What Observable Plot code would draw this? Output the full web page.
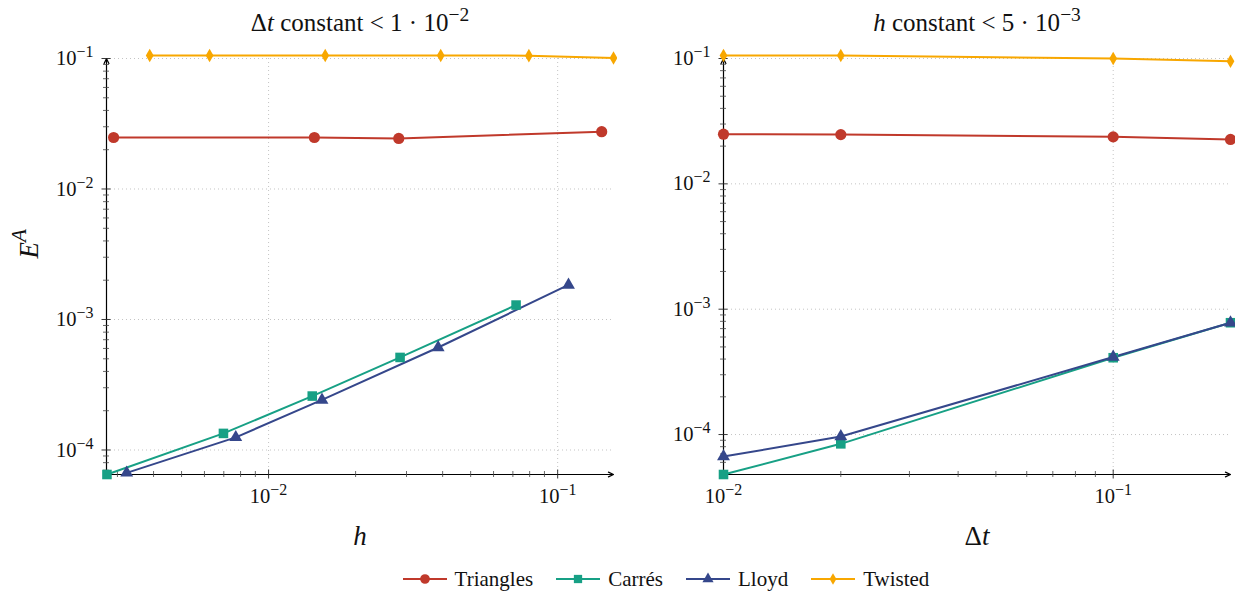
<!DOCTYPE html>
<html>
<head>
<meta charset="utf-8">
<script src="https://cdn.jsdelivr.net/npm/d3@7"></script>
<script src="https://cdn.jsdelivr.net/npm/@observablehq/plot@0.6"></script>
<style>
  body { margin: 0; background: #fff; font-family: "Liberation Serif", "Times New Roman", serif; }
  #row { display: flex; width: 1235px; }
  #legend { width: 1235px; box-sizing: border-box; padding-left: 96px; height: 38px; display: flex; justify-content: center; align-items: center; font-size: 21px; color: #111; font-family: "Liberation Serif", "Times New Roman", serif; }
  .item { display: flex; align-items: center; margin: 0 11px; }
  .item svg { margin-right: 7px; }
</style>
</head>
<body>
<div id="row"></div>
<div id="legend"></div>
<script>
// ---- series ----
const series = ["Triangles", "Carrés", "Lloyd", "Twisted"];
const colors = ["#c0392b", "#17a085", "#35478b", "#f8a700"];
const symbols = ["circle", "square", "triangle", "diamond"];
const radii = [5.6, 5.4, 4.8, 4.1];

// ---- left panel: Δt constant, E^A vs h ----
const hTriangles = [2.91e-3, 0.0144, 0.0282, 0.142];
const eTrianglesH = [0.0248, 0.0248, 0.0244, 0.0275];
const hCarres = [2.76e-3, 6.98e-3, 0.01416, 0.0285, 0.0718];
const eCarresH = [6.49e-5, 1.34e-4, 2.59e-4, 5.12e-4, 1.29e-3];
const hLloyd = [3.23e-3, 7.7e-3, 0.0153, 0.0386, 0.109];
const eLloydH = [6.68e-5, 1.25e-4, 2.42e-4, 6.1e-4, 1.84e-3];
const hTwisted = [3.88e-3, 6.25e-3, 0.0157, 0.0394, 0.0795, 0.156];
const eTwistedH = [0.1054, 0.1054, 0.1054, 0.1054, 0.1052, 0.101];

// ---- right panel: h constant, E^A vs Δt ----
const dtValues = [0.01, 0.02, 0.1, 0.2];
const eTrianglesDt = [0.0249, 0.0247, 0.0237, 0.0226];
const eCarresDt = [4.8e-5, 8.43e-5, 4.1e-4, 7.8e-4];
const eLloydDt = [6.67e-5, 9.64e-5, 4.15e-4, 7.8e-4];
const eTwistedDt = [0.1056, 0.1056, 0.1, 0.0952];

// ---- axes ----
const leftXDomain = [2.75e-3, 0.156];
const leftYDomain = [6.49e-5, 0.1];
const rightXDomain = [0.01, 0.2];
const rightYDomain = [4.8e-5, 0.1];
const xMajorTicks = [1e-2, 1e-1];
const yMajorTicks = [1e-4, 1e-3, 1e-2, 1e-1];
const leftTitle = "Δ*t* constant < 1 · 10^{−2}";
const rightTitle = "*h* constant < 5 · 10^{−3}";
const leftXLabel = "*h*";
const rightXLabel = "Δ*t*";
const yLabel = "*E*^{*A*}";

function minorTicks(domain) {
  const out = [];
  for (let e = -6; e <= 1; e++) for (let k = 2; k <= 9; k++) {
    const v = +(k * Math.pow(10, e)).toPrecision(6);
    if (v > domain[0] * 1.0001 && v < domain[1] * 0.9999) out.push(v);
  }
  return out;
}
const pow10 = d => "10^{" + String(Math.round(Math.log10(d))).replace("-", "−") + "}";

function rows(xs, ysList) {
  return series.map((s, i) => xs[i].map((x, j) => ({series: s, x, y: ysList[i][j]})));
}

function richify(svg) {
  svg.querySelectorAll("text").forEach(t => {
    const s = t.textContent;
    if (!/[\^*]/.test(s)) return;
    while (t.firstChild) t.removeChild(t.firstChild);
    const re = /\^\{([^}]*)\}|\*([^*]*)\*|([^^*]+)/g;
    let m;
    while ((m = re.exec(s))) {
      const ts = document.createElementNS("http://www.w3.org/2000/svg", "tspan");
      if (m[1] !== undefined) {
        let txt = m[1];
        if (/^\*.*\*$/.test(txt)) { txt = txt.slice(1, -1); ts.setAttribute("font-style", "italic"); }
        ts.textContent = txt;
        ts.setAttribute("baseline-shift", "super");
        ts.setAttribute("font-size", "78%");
      } else if (m[2] !== undefined) {
        ts.textContent = m[2];
        ts.setAttribute("font-style", "italic");
      } else {
        ts.textContent = m[3];
      }
      t.appendChild(ts);
    }
  });
}

function panel({width, marginRight, xDomain, yDomain, data, title, xLabel, showYLabel}) {
  const marginLeft = 106, marginTop = 58, marginBottom = 86, height = 560;
  const plotW = width - marginLeft - marginRight;
  const plotH = height - marginTop - marginBottom;
  const xMinor = minorTicks(xDomain), yMinor = minorTicks(yDomain);
  const xMaj = xMajorTicks.filter(v => v >= xDomain[0] && v <= xDomain[1]);
  const yMaj = yMajorTicks.filter(v => v >= yDomain[0] && v <= yDomain[1]);
  const grid = {stroke: "#c4c4c4", strokeDasharray: "1,3", strokeWidth: 1};
  const marks = [
    Plot.ruleX(xMaj, {x: d => d, ...grid}),
    Plot.ruleY(yMaj, {y: d => d, ...grid}),
    Plot.arrow([{x1: xDomain[0], y1: yDomain[0], x2: xDomain[1], y2: yDomain[0]}],
      {x1: "x1", y1: "y1", x2: "x2", y2: "y2", stroke: "#000", strokeWidth: 1.2, headLength: 7, headAngle: 50}),
    Plot.arrow([{x1: xDomain[0], y1: yDomain[0], x2: xDomain[0], y2: yDomain[1]}],
      {x1: "x1", y1: "y1", x2: "x2", y2: "y2", stroke: "#000", strokeWidth: 1.2, headLength: 7, headAngle: 50}),
    Plot.tickX(xMaj, {x: d => d, stroke: "#222", strokeWidth: 0.9, insetTop: plotH - 4.5, insetBottom: -4.5}),
    Plot.tickX(xMinor, {x: d => d, stroke: "#444", strokeWidth: 0.8, insetTop: plotH - 3, insetBottom: -3}),
    Plot.tickY(yMaj, {y: d => d, stroke: "#222", strokeWidth: 0.9, insetLeft: -4.5, insetRight: plotW - 4.5}),
    Plot.tickY(yMinor, {y: d => d, stroke: "#444", strokeWidth: 0.8, insetLeft: -3, insetRight: plotW - 3}),
    Plot.text(xMaj, {x: d => d, text: pow10, frameAnchor: "bottom", dy: 28, fontSize: 20.5, fill: "#111"}),
    Plot.text(yMaj, {y: d => d, text: pow10, frameAnchor: "left", dx: -13, textAnchor: "end", fontSize: 20.5, fill: "#111"}),
    Plot.text([title], {text: d => d, frameAnchor: "top", dy: -36, lineAnchor: "middle", fontSize: 25, fill: "#111"}),
    Plot.text([xLabel], {text: d => d, frameAnchor: "bottom", dy: 62, lineAnchor: "middle", fontSize: 27, fill: "#111"})
  ];
  if (showYLabel) marks.push(Plot.text([yLabel], {text: d => d, frameAnchor: "left", dx: -77, dy: -8, rotate: -90, lineAnchor: "middle", fontSize: 27, fill: "#111"}));
  data.forEach((pts, i) => {
    marks.push(Plot.line(pts, {x: "x", y: "y", stroke: colors[i], strokeWidth: 2}));
  });
  data.forEach((pts, i) => {
    marks.push(Plot.dot(pts, {x: "x", y: "y", fill: colors[i], stroke: "none", symbol: symbols[i], r: radii[i]}));
  });
  const svg = Plot.plot({
    width, height, marginLeft, marginRight, marginTop, marginBottom,
    style: {fontFamily: "'Liberation Serif', 'Times New Roman', serif", background: "white", overflow: "visible"},
    x: {type: "log", domain: xDomain, axis: null},
    y: {type: "log", domain: yDomain, axis: null},
    marks
  });
  richify(svg);
  return svg;
}

const row = document.getElementById("row");
row.appendChild(panel({
  width: 617, marginRight: 4, xDomain: leftXDomain, yDomain: leftYDomain,
  data: rows([hTriangles, hCarres, hLloyd, hTwisted], [eTrianglesH, eCarresH, eLloydH, eTwistedH]),
  title: leftTitle, xLabel: leftXLabel, showYLabel: true
}));
row.appendChild(panel({
  width: 618, marginRight: 5, xDomain: rightXDomain, yDomain: rightYDomain,
  data: rows([dtValues, dtValues, dtValues, dtValues], [eTrianglesDt, eCarresDt, eLloydDt, eTwistedDt]),
  title: rightTitle, xLabel: rightXLabel, showYLabel: false
}));

// legend
const legend = d3.select("#legend");
series.forEach((s, i) => {
  const item = legend.append("div").attr("class", "item");
  const sw = item.append("svg").attr("width", 46).attr("height", 14);
  sw.append("line").attr("x1", 1).attr("x2", 45).attr("y1", 7).attr("y2", 7).attr("stroke", colors[i]).attr("stroke-width", 2);
  const sym = {circle: d3.symbolCircle, square: d3.symbolSquare, triangle: d3.symbolTriangle, diamond: d3.symbolDiamond}[symbols[i]];
  sw.append("path").attr("transform", "translate(23,7)").attr("d", d3.symbol(sym, Math.PI * radii[i] * radii[i] * 0.75)()).attr("fill", colors[i]);
  item.append("span").text(s);
});
</script>
</body>
</html>
